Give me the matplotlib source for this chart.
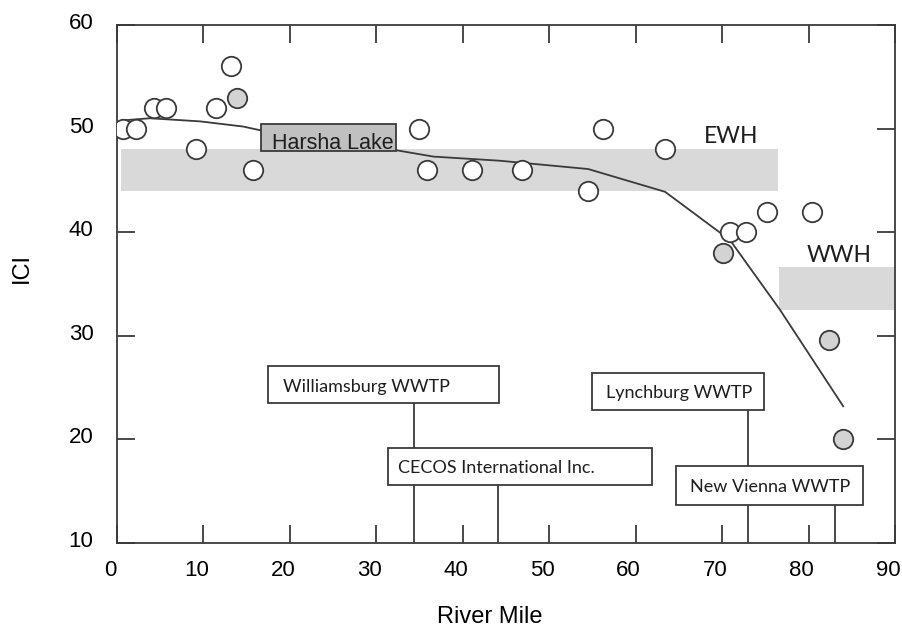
import matplotlib
matplotlib.use("Agg")
import matplotlib.pyplot as plt
from matplotlib.patches import Rectangle
from matplotlib.transforms import ScaledTranslation

# ICI samples (open circles)
open_mile = [0.7, 2.2, 4.3, 5.7, 9.1, 11.5, 13.2, 15.7, 34.9, 35.9, 41.1, 46.9,
             54.5, 56.2, 63.4, 70.9, 72.8, 75.2, 80.4]
open_ici = [50, 50, 52, 52, 48, 52, 56, 46, 50, 46, 46, 46,
            44, 50, 48, 40, 40, 42, 42]

# ICI samples (gray circles)
gray_mile = [13.9, 70.1, 82.4, 84.0]
gray_ici = [53, 38, 29.6, 20]

# trend line
trend_mile = [0.7, 3.8, 9.6, 14.6, 16.8, 32.4, 36.6, 44.3, 54.5, 63.4, 70.9, 76.7, 84.0]
trend_ici = [50.8, 51.0, 50.7, 50.2, 49.8, 47.9, 47.3, 46.9, 46.1, 43.9, 39.25, 32.5, 23.2]

# use designation bands: (start mile, end mile, low ICI, high ICI)
ewh_band = (0.5, 76.5, 44.0, 48.0)
wwh_band = (76.6, 90.0, 32.5, 36.6)

# point sources along the river
source_names = ["Williamsburg WWTP", "CECOS International Inc.", "Lynchburg WWTP", "New Vienna WWTP"]
source_miles = [34.4, 44.1, 73.0, 83.0]

# where the label boxes sit: (x0, x1, y0, y1, text x, text baseline)
box_layout = [
    (17.5, 44.2, 23.5, 27.1, 19.2, 24.6),
    (31.3, 61.9, 15.6, 19.2, 32.5, 16.8),
    (55.0, 74.8, 22.8, 26.4, 56.6, 24.0),
    (64.7, 86.3, 13.7, 17.4, 66.3, 14.95),
]

dark = "#3a3a3a"
plt.rcParams["font.family"] = ["Liberation Sans", "DejaVu Sans"]

fig = plt.figure(figsize=(9.03, 6.32), dpi=100)
ax = fig.add_axes([0.1296, 0.1408, 0.8616, 0.8196])

# bands
for b in (ewh_band, wwh_band):
    ax.add_patch(Rectangle((b[0], b[2]), b[1] - b[0], b[3] - b[2],
                           facecolor="#d9d9d9", edgecolor="none", zorder=1))

ax.text(71.0, 49.2, "EWH", family="Lato", fontsize=16.5, color="#1e1e1e",
        ha="center", va="center", zorder=2)
ax.text(83.5, 37.8, "WWH", family="Lato", fontsize=16.5, color="#1e1e1e",
        ha="center", va="center", zorder=2)

ax.plot(trend_mile, trend_ici, color=dark, lw=1.3, zorder=2)

ax.plot(open_mile, open_ici, "o", ms=14, mfc="white", mec=dark, mew=1.3, zorder=3)
ax.plot(gray_mile, gray_ici, "o", ms=14, mfc="#d3d3d3", mec=dark, mew=1.3, zorder=3)

# Harsha Lake box
ax.add_patch(Rectangle((16.7, 47.8), 32.3 - 16.7, 50.4 - 47.8,
                       facecolor="#c0c0c0", edgecolor=dark, lw=1.3, zorder=4))
ax.text(17.9, 48.0, "Harsha Lake", fontsize=15.5, color="#1e1e1e",
        ha="left", va="baseline", zorder=5)

# source labels with leader lines
for i, (name, mile) in enumerate(zip(source_names, source_miles)):
    x0, x1, y0, y1, tx, ty = box_layout[i]
    ax.plot([mile, mile], [10, y0], color=dark, lw=1.3, zorder=4 + 2 * i)
    ax.add_patch(Rectangle((x0, y0), x1 - x0, y1 - y0, facecolor="white",
                           edgecolor=dark, lw=1.3, zorder=5 + 2 * i))
    ax.text(tx, ty, name, family="Lato", fontsize=13, color="#1e1e1e",
            ha="left", va="baseline", zorder=5 + 2 * i)

ax.set_xlim(0, 90)
ax.set_ylim(10, 60)
ax.set_xticks(range(0, 91, 10))
ax.set_yticks(range(10, 61, 10))
ax.tick_params(direction="in", top=True, right=True, length=13, width=1.3,
               color=dark, labelsize=16)
ax.tick_params(axis="y", pad=17)
ax.tick_params(axis="x", pad=12)
for s in ax.spines.values():
    s.set_color(dark)
    s.set_linewidth(1.3)

shift = ScaledTranslation(-7 / 100, 0, fig.dpi_scale_trans)
for lab in ax.get_xticklabels():
    lab.set_transform(lab.get_transform() + shift)
yshift = ScaledTranslation(0, 4 / 100, fig.dpi_scale_trans)
for lab in ax.get_yticklabels():
    lab.set_transform(lab.get_transform() + yshift)

ax.set_xlabel("River Mile", fontsize=17, va="center")
ax.set_ylabel("ICI", fontsize=17, va="center", ha="center")
ax.xaxis.set_label_coords(0.479, -0.142)
ax.yaxis.set_label_coords(-0.122, 0.531)

fig.savefig("out.png", dpi=100)
